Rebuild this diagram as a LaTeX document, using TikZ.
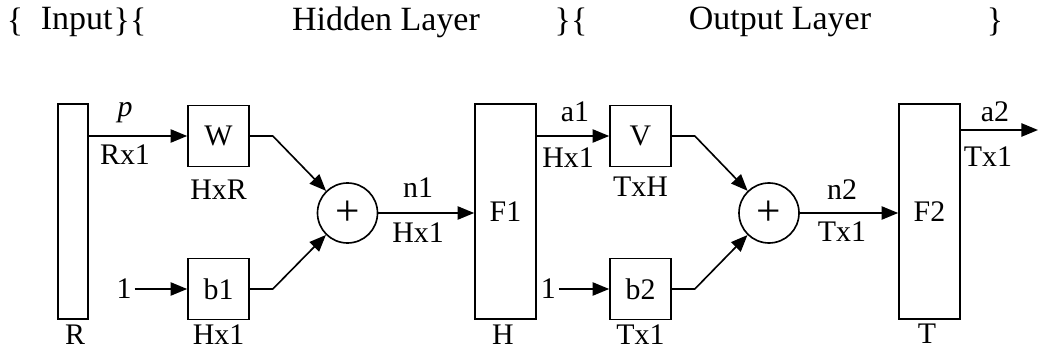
\documentclass[tikz,border=0pt]{standalone}
\usepackage{fontspec}
\setmainfont{Liberation Serif}
\usetikzlibrary{arrows.meta}

\begin{document}
\begin{tikzpicture}[>={Triangle[length=5mm,width=4mm]}, line width=1.4pt,
    every node/.style={font=\fontsize{25.5}{28}\selectfont},
    blk/.style={draw, minimum size=1.83cm, inner sep=0pt},
    bar/.style={draw, minimum width=1.83cm, minimum height=6.45cm, inner sep=0pt},
    sum/.style={draw, circle, minimum size=1.8cm, inner sep=0pt, font=\fontsize{37}{40}\selectfont},
    head/.style={font=\fontsize{29}{32}\selectfont}]
    \useasboundingbox (0,0) rectangle (31.29,10.56);

    % layer headings
    \node[head] (h0) at (0.45,9.9) {\{};
    \node[head] (h1) at (2.3,9.9) {Input};
    \node[head] (h2) at (3.9,9.9) {\}\{};
    \node[head] (h3) at (11.58,9.9) {Hidden Layer};
    \node[head] (h4) at (17.13,9.9) {\}\{};
    \node[head] (h5) at (23.4,9.9) {Output Layer};
    \node[head] (h6) at (29.85,9.9) {\}};

    % blocks
    \node[bar, minimum width=0.9cm] (R) at (2.19,4.215) {};
    \node[blk] (W) at (6.555,6.48) {W};
    \node[blk] (b1) at (6.555,1.89) {b1};
    \node[sum] (s1) at (10.425,4.17) {+};
    \node[bar] (F1) at (15.165,4.215) {F1};
    \node[blk] (V) at (19.215,6.48) {V};
    \node[blk] (b2) at (19.215,1.89) {b2};
    \node[sum] (s2) at (23.07,4.17) {+};
    \node[bar] (F2) at (27.885,4.215) {F2};

    \node[inner sep=2pt] (one1) at (3.72,1.89) {1};
    \node[inner sep=2pt] (one2) at (16.45,1.89) {1};
    \coordinate (out) at (31.14,6.66);

    % connections
    \draw[->] (R.east |- W.west) -- (W.west);
    \draw[->] (one1) -- (b1);
    \draw[->] (W.east) -- ++(0.69,0) -- (s1);
    \draw[->] (b1.east) -- ++(0.69,0) -- (s1);
    \draw[->] (s1) -- (s1 -| F1.west);
    \draw[->] (F1.east |- V.west) -- (V.west);
    \draw[->] (one2) -- (b2);
    \draw[->] (V.east) -- ++(0.69,0) -- (s2);
    \draw[->] (b2.east) -- ++(0.69,0) -- (s2);
    \draw[->] (s2) -- (s2 -| F2.west);
    \draw[->] (F2.east |- out) -- (out);

    % sizes
    \node (lp) at (3.75,7.17) {\textit{p}};
    \node (lRx1) at (3.75,5.91) {Rx1};
    \node (lHxR) at (6.555,4.86) {HxR};
    \node (lHb) at (6.555,0.52) {Hx1};
    \node (lR) at (2.25,0.52) {R};
    \node (ln1) at (12.54,4.92) {n1};
    \node (lHn) at (12.54,3.57) {Hx1};
    \node (la1) at (17.25,7.2) {a1};
    \node (lHa) at (17.04,5.82) {Hx1};
    \node (lTxH) at (19.215,4.95) {TxH};
    \node (lTb) at (19.215,0.52) {Tx1};
    \node (lH) at (15.09,0.52) {H};
    \node (ln2) at (25.26,4.86) {n2};
    \node (lTn) at (25.26,3.6) {Tx1};
    \node (la2) at (29.85,7.2) {a2};
    \node (lTa) at (29.64,5.85) {Tx1};
    \node (lT) at (27.81,0.56) {T};
\end{tikzpicture}
\end{document}
